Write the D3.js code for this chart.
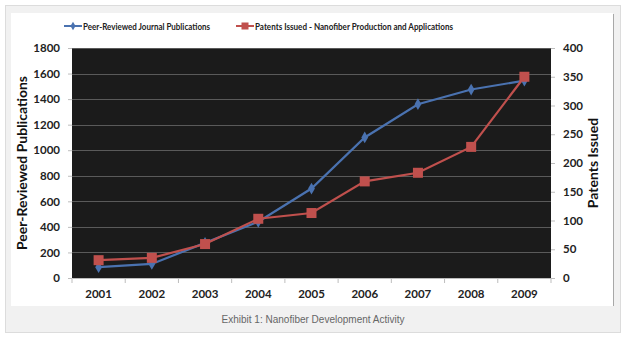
<!DOCTYPE html>
<html><head><meta charset="utf-8">
<script src="https://cdn.jsdelivr.net/npm/d3@7"></script>
<style>body{margin:0;background:#fff}svg{display:block}</style>
</head><body>
<svg id="c" width="627" height="338"></svg>
<script>
const years = ["2001","2002","2003","2004","2005","2006","2007","2008","2009"];
const publications = [85, 110, 275, 440, 700, 1100, 1360, 1475, 1545];
const patents = [31, 35, 59, 103, 113, 168, 183, 228, 350];
const leftTicks = [0,200,400,600,800,1000,1200,1400,1600,1800];
const rightTicks = [0,50,100,150,200,250,300,350,400];
const seriesNames = ["Peer-Reviewed Journal Publications","Patents Issued - Nanofiber Production and Applications"];
const seriesColors = ["#4a72b0","#c0504d"];

const svg = d3.select("#c");
const F = "Lato, 'Open Sans', 'Liberation Sans', sans-serif";

// frame
svg.append("rect").attr("x",5.5).attr("y",5.5).attr("width",615).attr("height",327)
  .attr("fill","#f1f1f1").attr("stroke","#dcdcdc");
svg.append("rect").attr("x",11).attr("y",13).attr("width",602).attr("height",293).attr("fill","#fff");
svg.append("line").attr("x1",613.5).attr("x2",613.5).attr("y1",14).attr("y2",306).attr("stroke","#a8a8a8");

const L=72, R=551, T=48, B=278;
const x = d3.scaleBand().domain(years).range([L,R]);
const yL = d3.scaleLinear().domain([0,1800]).range([B,T]);
const yR = d3.scaleLinear().domain([0,400]).range([B,T]);

svg.append("rect").attr("x",L).attr("y",T).attr("width",R-L).attr("height",B-T).attr("fill","#1b1b1b");
svg.append("g").selectAll("line").data(leftTicks.slice(1)).join("line")
  .attr("x1",L).attr("x2",R).attr("y1",d=>Math.round(yL(d))+0.5).attr("y2",d=>Math.round(yL(d))+0.5)
  .attr("stroke","#5a5a5a").attr("stroke-width",1);

// axes
const axStyle = g=>{g.select(".domain").attr("stroke","#bdbdbd");g.selectAll(".tick line").attr("stroke","#bdbdbd");
  g.selectAll("text").attr("font-family",F).attr("font-weight","bold").attr("font-size","11.5px").attr("fill","#222");};
svg.append("g").attr("transform",`translate(${L},0)`)
  .call(d3.axisLeft(yL).tickValues(leftTicks).tickFormat(d3.format("d")).tickSize(4).tickPadding(8)).call(axStyle)
  .call(g=>g.select(".domain").remove());
svg.append("g").attr("transform",`translate(${R},0)`)
  .call(d3.axisRight(yR).tickValues(rightTicks).tickFormat(d3.format("d")).tickSize(4).tickPadding(8)).call(axStyle)
  .call(g=>g.select(".domain").remove());
const xa = svg.append("g").attr("transform",`translate(0,${B})`)
  .call(d3.axisBottom(x).tickSize(0).tickPadding(12)).call(axStyle);
xa.selectAll(".tick line").remove();
xa.append("g").selectAll("line").data(years.concat(["end"])).join("line")
  .attr("x1",(d,i)=>L+i*x.bandwidth()).attr("x2",(d,i)=>L+i*x.bandwidth())
  .attr("y1",0).attr("y2",5).attr("stroke","#bdbdbd");

// titles
svg.append("text").attr("transform","translate(27,163) rotate(-90)").attr("text-anchor","middle")
  .attr("font-family",F).attr("font-weight","bold").attr("font-size","14px").attr("fill","#111")
  .text("Peer-Reviewed Publications");
svg.append("text").attr("transform","translate(598,163) rotate(-90)").attr("text-anchor","middle")
  .attr("font-family",F).attr("font-weight","bold").attr("font-size","14px").attr("fill","#111")
  .text("Patents Issued");

// lines
const cx = d=>x(d)+x.bandwidth()/2;
const lineP = d3.line().x((d,i)=>cx(years[i])).y(d=>yL(d));
const lineR = d3.line().x((d,i)=>cx(years[i])).y(d=>yR(d));
svg.append("path").attr("d",lineP(publications)).attr("fill","none").attr("stroke",seriesColors[0]).attr("stroke-width",2.2);
svg.append("path").attr("d",lineR(patents)).attr("fill","none").attr("stroke",seriesColors[1]).attr("stroke-width",2.2);
const diamond = d3.symbol().type(d3.symbolDiamond).size(40);
svg.append("g").selectAll("path").data(publications).join("path")
  .attr("transform",(d,i)=>`translate(${cx(years[i])},${yL(d)})`).attr("d",diamond).attr("fill",seriesColors[0]);
svg.append("g").selectAll("rect").data(patents).join("rect")
  .attr("x",(d,i)=>cx(years[i])-5).attr("y",d=>yR(d)-5).attr("width",10).attr("height",10).attr("fill",seriesColors[1]);

// legend
const leg = [{x:64, tx:83, w:127},{x:236, tx:255, w:198}];
seriesNames.forEach((n,i)=>{
  const g = svg.append("g");
  g.append("line").attr("x1",leg[i].x).attr("x2",leg[i].x+18).attr("y1",26).attr("y2",26).attr("stroke",seriesColors[i]).attr("stroke-width",2);
  if(i===0) g.append("path").attr("transform",`translate(${leg[i].x+9},26)`).attr("d",d3.symbol().type(d3.symbolDiamond).size(22)).attr("fill",seriesColors[i]);
  else g.append("rect").attr("x",leg[i].x+5.5).attr("y",22.5).attr("width",7).attr("height",7).attr("fill",seriesColors[i]);
  g.append("text").attr("x",leg[i].tx).attr("y",29.5).attr("font-family",F).attr("font-weight","bold")
    .attr("font-size","9px").attr("textLength",leg[i].w).attr("lengthAdjust","spacingAndGlyphs")
    .attr("fill","#222").text(n);
});

// caption
svg.append("text").attr("x",313).attr("y",323).attr("text-anchor","middle")
  .attr("font-family","'Liberation Sans', Arial, sans-serif").attr("font-size","10px").attr("fill","#666")
  .text("Exhibit 1: Nanofiber Development Activity");
</script>
</body></html>
